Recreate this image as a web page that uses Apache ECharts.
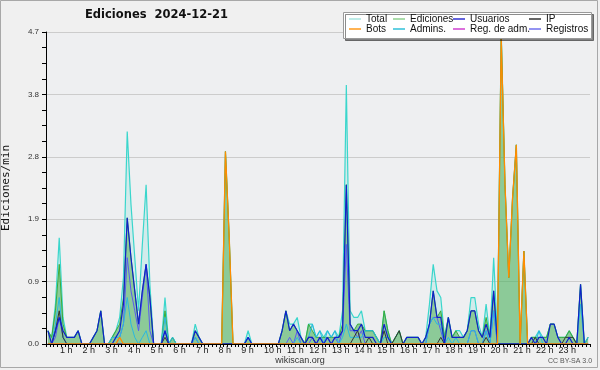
<!DOCTYPE html>
<html>
<head>
<meta charset="utf-8">
<script src="https://cdn.jsdelivr.net/npm/echarts@6/dist/echarts.min.js"></script>
<style>html,body{margin:0;padding:0;background:#f0f0f0;}#c{width:600px;height:370px;}</style>
</head>
<body>
<div id="c"></div>
<script>
// 144 ten-minute slots (0 h .. 24 h), values in edits/min
const hourTicks = ['1 h','2 h','3 h','4 h','5 h','6 h','7 h','8 h','9 h','10 h','11 h','12 h','13 h','14 h','15 h','16 h','17 h','18 h','19 h','20 h','21 h','22 h','23 h'];

const total = [
0.2,0.1,0.6,1.6,0.4,0.1,0.1,0.1,0.2,0,0,0,
0.1,0.2,0.5,0,0,0.1,0.2,0.4,1.0,3.2,2.1,1.3,
0.5,1.5,2.4,0.9,0,0,0,0.7,0,0.1,0,0,
0,0,0,0.3,0.1,0,0,0,0,0,0,2.9,
1.6,0,0,0,0,0.2,0,0,0,0,0,0,
0,0,0.2,0.5,0.3,0.3,0.4,0.1,0,0.3,0.3,0.1,
0.2,0.1,0.2,0.1,0.2,0.1,0.5,3.9,0.5,0.4,0.4,0.5,
0.2,0.2,0.2,0.1,0,0.5,0.2,0,0.1,0.2,0,0.1,
0.1,0.1,0.1,0,0.1,0.6,1.2,0.8,0.7,0.1,0.4,0.1,
0.2,0.2,0.1,0.2,0.7,0.7,0.3,0.1,0.6,0.1,1.3,0.1,
4.7,2.4,1.0,2.2,3.0,0,1.4,0,0.1,0.1,0.2,0.1,
0.1,0.3,0.3,0.1,0.1,0.1,0.2,0.1,0,0.9,0,0.1];

const ediciones = [
0.2,0.1,0.5,1.2,0.3,0.1,0.1,0.1,0.2,0,0,0,
0.1,0.2,0.5,0,0,0.1,0.2,0.3,0.7,1.9,1.3,0.8,
0.3,0.8,1.2,0.7,0,0,0,0.5,0,0.1,0,0,
0,0,0,0.2,0.1,0,0,0,0,0,0,2.9,
1.6,0,0,0,0,0.1,0,0,0,0,0,0,
0,0,0.2,0.5,0.2,0.3,0.2,0.1,0,0.3,0.2,0.1,
0.1,0.1,0.1,0.1,0.1,0.1,0.3,2.4,0.3,0.2,0.3,0.3,
0.2,0.2,0.2,0.1,0,0.5,0.2,0,0.1,0.2,0,0.1,
0.1,0.1,0.1,0,0.1,0.3,0.8,0.4,0.5,0.1,0.4,0.1,
0.2,0.1,0.1,0.2,0.5,0.5,0.2,0.1,0.4,0.1,0.8,0.1,
4.7,2.4,1.0,2.2,3.0,0,1.4,0,0.1,0.1,0.1,0.1,
0.1,0.3,0.3,0.1,0.1,0.1,0.2,0.1,0,0.9,0,0.1];

const usuarios = [
0.2,0,0.2,0.4,0.2,0.1,0.1,0.1,0.2,0,0,0,
0.1,0.2,0.5,0,0,0,0.1,0.2,0.6,1.9,1.3,0.8,
0.3,0.8,1.2,0.7,0,0,0,0.2,0,0,0,0,
0,0,0,0.2,0.1,0,0,0,0,0,0,0,
0,0,0,0,0,0.1,0,0,0,0,0,0,
0,0,0.2,0.5,0.2,0.3,0.2,0.1,0,0.1,0.1,0,
0.1,0,0.1,0,0.1,0.1,0.2,2.4,0.3,0.2,0.2,0.3,
0.1,0.1,0.1,0,0,0.3,0.1,0,0,0,0,0.1,
0.1,0.1,0.1,0,0.1,0.3,0.8,0.4,0.4,0,0.4,0.1,
0.1,0.1,0.1,0.2,0.5,0.5,0.2,0.1,0.3,0.1,0.8,0,
0,0,0,0,0,0,0,0,0.1,0,0.1,0.1,
0,0.3,0.3,0.1,0,0,0.1,0,0,0.9,0,0];

const ip = [
0,0,0.2,0.5,0.1,0,0,0,0,0,0,0,
0,0,0,0,0,0,0,0,0,0,0,0,
0,0,0,0,0,0,0,0.1,0,0,0,0,
0,0,0,0,0,0,0,0,0,0,0,0,
0,0,0,0,0,0,0,0,0,0,0,0,
0,0,0,0,0,0,0,0,0,0.1,0.1,0,
0,0,0,0,0,0,0,0,0,0.1,0.2,0,
0,0.1,0,0,0,0.2,0,0,0.1,0.2,0,0,
0,0,0,0,0,0,0,0,0.1,0,0,0,
0,0,0,0,0,0,0,0,0.1,0,0,0,
0,0,0,0,0,0,0,0,0,0.1,0,0,
0,0,0,0,0,0.1,0.1,0.1,0,0,0,0];

const bots = [
0,0,0,0,0,0,0,0,0,0,0,0,
0,0,0,0,0,0,0,0.1,0,0,0,0,
0,0,0,0,0,0,0,0,0,0,0,0,
0,0,0,0,0,0,0,0,0,0,0,2.9,
1.6,0,0,0,0,0,0,0,0,0,0,0,
0,0,0,0,0,0,0,0,0,0,0,0,
0,0,0,0,0,0,0,0,0,0,0,0,
0,0,0,0,0,0,0,0,0,0,0,0,
0,0,0,0,0,0,0,0,0,0,0,0,
0,0,0,0,0,0,0,0,0,0,0,0,
4.6,2.4,1.0,2.2,3.0,0,1.4,0,0,0,0,0,
0,0,0,0,0,0,0,0,0,0,0,0];

const admins = [
0,0,0.3,0.7,0.1,0,0,0,0,0,0,0,
0,0,0,0,0,0.1,0.1,0.1,0.3,0.7,0.3,0.1,
0,0.1,0.2,0,0,0,0,0.4,0,0.1,0,0,
0,0,0,0.1,0,0,0,0,0,0,0,0,
0,0,0,0,0,0.1,0,0,0,0,0,0,
0,0,0,0,0,0,0.1,0,0,0.1,0.3,0.1,
0.2,0,0.2,0.1,0.2,0,0.1,0.3,0.1,0.1,0.1,0.1,
0.2,0.2,0.2,0.1,0,0.1,0.1,0,0,0,0,0,
0,0,0,0,0,0.3,0.4,0.3,0.3,0,0.1,0,
0.1,0,0,0,0.2,0.2,0,0,0.2,0,0.5,0,
0,0,0,0,0,0,0,0,0,0,0.2,0,
0,0,0,0,0,0,0,0,0,0.6,0,0.1];

const regAdm = [
0,0,0,0,0,0,0,0,0,0,0,0,
0,0,0,0,0,0,0,0,0,0,0,0,
0,0,0,0,0,0,0,0,0,0,0,0,
0,0,0,0,0,0,0,0,0,0,0,0,
0,0,0,0,0,0,0,0,0,0,0,0,
0,0,0,0,0,0,0,0,0,0,0,0,
0,0,0,0,0,0,0,0,0,0,0,0,
0,0,0,0,0,0,0,0,0,0,0,0,
0,0,0,0,0,0,0,0,0,0,0,0,
0,0,0,0,0,0,0,0,0,0,0,0,
0,0,0,0,0,0,0,0,0,0,0,0,
0,0,0,0,0,0,0,0,0,0,0,0];

const registros = [
0,0,0.1,0.4,0.1,0,0,0,0,0,0,0,
0,0,0,0,0,0,0,0.1,0.3,1.3,0.8,0.5,
0.2,0.7,1.2,0.2,0,0,0,0.2,0,0,0,0,
0,0,0,0.1,0,0,0,0,0,0,0,0,
0,0,0,0,0,0.1,0,0,0,0,0,0,
0,0,0,0,0.1,0,0.2,0,0,0,0.1,0,
0.1,0,0.1,0,0.1,0,0.2,1.5,0.2,0.2,0.1,0.2,
0,0,0,0,0,0,0,0,0,0,0,0,
0,0,0,0,0,0.3,0.4,0.4,0.2,0,0,0,
0,0,0,0,0.2,0.2,0,0,0.2,0,0.5,0,
0,0,0,0,0,0,0,0,0,0,0,0,
0,0,0,0,0,0,0,0,0,0,0,0];

const yMax = 4.7;
const slotHour = i => (i + 0.5) / 6;   // centre of each 10-minute slot
const pts = arr => arr.map((v, i) => [slotHour(i), v]);

const chart = echarts.init(document.getElementById('c'), null, {renderer: 'canvas'});

function lineSeries(name, arr, color, width, area, z) {
  const s = {
    name, type: 'line', data: pts(arr), showSymbol: false, symbol: 'none',
    lineStyle: {color, width}, itemStyle: {color}, z: z, silent: true
  };
  if (area) s.areaStyle = {color: area, opacity: 1};
  return s;
}

const legendCols = [349, 393, 453, 529];
const legendRows = [14, 24];
const legendItems = [
  ['Total', '#a8e6e0', 0, 0], ['Ediciones', '#8fd08f', 1, 0], ['Usuarios', '#3030d0', 2, 0], ['IP', '#333333', 3, 0],
  ['Bots', '#ff9a1a', 0, 1], ['Admins.', '#30c0d8', 1, 1], ['Reg. de adm.', '#d040d0', 2, 1], ['Registros', '#7070ee', 3, 1]
];

const option = {
  animation: false,
  backgroundColor: '#f0f0f0',
  title: [
    {text: 'Ediciones  2024-12-21', left: 85, top: 9, padding: 0,
     textStyle: {fontFamily: 'DejaVu Sans', fontSize: 11.5, fontWeight: 'bold', color: '#111'}},
    {text: 'wikiscan.org', left: 'center', top: 356, padding: 0,
     textStyle: {fontFamily: 'Liberation Sans', fontSize: 9, fontWeight: 'normal', color: '#333'}},
    {text: 'CC BY-SA 3.0', left: 548, top: 358, padding: 0,
     textStyle: {fontFamily: 'Liberation Sans', fontSize: 7, fontWeight: 'normal', color: '#555'}}
  ],
  legend: legendItems.map(([name, color, c, r]) => ({
    data: [{name, itemStyle: {color}}],
    left: legendCols[c], top: legendRows[r], padding: 0, z: 60,
    icon: 'rect', itemWidth: 12, itemHeight: 1.5, itemGap: 0,
    selectedMode: false,
    textStyle: {fontFamily: 'Liberation Sans', fontSize: 10, color: '#111', padding: [0, 0, 0, 0]}
  })),
  grid: {left: 46, right: 10, top: 32, bottom: 26, show: true, backgroundColor: '#eeeff1',
         borderWidth: 0, outerBoundsMode: 'none', containLabel: false},
  xAxis: {
    type: 'value', min: 0, max: 24, interval: 1, z: 10,
    axisLine: {show: true, lineStyle: {color: '#000', width: 1}},
    axisTick: {show: true, length: 3, lineStyle: {color: '#000'}},
    minorTick: {show: true, splitNumber: 6, length: 3, lineStyle: {color: '#000'}},
    splitLine: {show: false},
    axisLabel: {
      margin: 2, fontFamily: 'Liberation Sans', fontSize: 9, color: '#222',
      showMinLabel: false, showMaxLabel: false,
      formatter: v => (v >= 1 && v <= 23) ? hourTicks[v - 1] + (v < 10 ? '  ' : '') : ''
    }
  },
  yAxis: {
    type: 'value', min: 0, max: yMax, interval: yMax / 5,
    name: 'Ediciones/min', nameLocation: 'middle', nameGap: 34, nameRotate: 90,
    nameTextStyle: {fontFamily: 'DejaVu Sans Mono', fontSize: 11, color: '#111'},
    axisLine: {show: true, lineStyle: {color: '#000', width: 1}},
    axisTick: {show: true, length: 4, lineStyle: {color: '#000'}},
    minorTick: {show: true, splitNumber: 4, length: 4, lineStyle: {color: '#000'}},
    splitLine: {show: true, lineStyle: {color: '#cccccc', width: 1}},
    axisLabel: {margin: 7, fontFamily: 'Liberation Sans', fontSize: 8, color: '#333',
      formatter: v => v.toFixed(1)}
  },
  graphic: [
    {type: 'rect', z: 100, silent: true, shape: {x: 0.5, y: 0.5, width: 597, height: 367},
     style: {fill: 'none', stroke: '#a8a8a8', lineWidth: 1}},
    {type: 'rect', z: 50, silent: true, shape: {x: 343.5, y: 12.5, width: 248, height: 26},
     style: {fill: '#ffffff', stroke: '#9a9a9a', lineWidth: 1,
             shadowColor: 'rgba(0,0,0,0.45)', shadowOffsetX: 2, shadowOffsetY: 2, shadowBlur: 0}}
  ],
  series: [
    lineSeries('Total', total, '#3ad6cc', 1.2, 'rgba(70,215,205,0.16)', 2),
    lineSeries('Ediciones', ediciones, '#3aac3a', 1, 'rgba(70,170,70,0.5)', 3),
    lineSeries('Reg. de adm.', regAdm, '#d040d0', 1, null, 4),
    lineSeries('Registros', registros, '#5a5af0', 1, null, 4),
    lineSeries('Admins.', admins, '#2ab8e0', 1, null, 5),
    lineSeries('IP', ip, '#333333', 1, null, 5),
    lineSeries('Usuarios', usuarios, '#1020cc', 1.2, null, 6),
    lineSeries('Bots', bots, '#ff8c00', 1.3, null, 7)
  ]
};
chart.setOption(option);
</script>
</body>
</html>
